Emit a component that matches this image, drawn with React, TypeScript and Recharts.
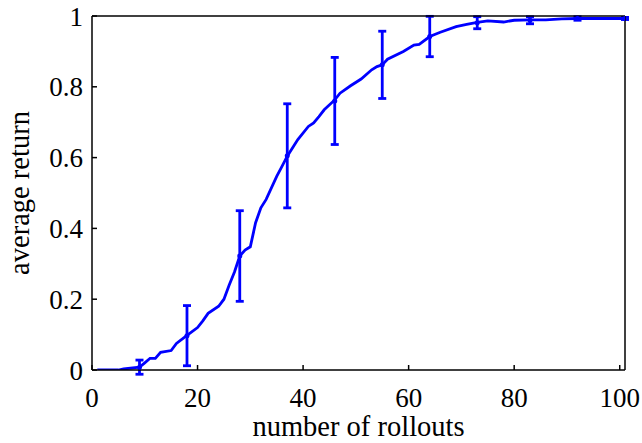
import { ComposedChart, Line, Scatter, ErrorBar, XAxis, YAxis, Label } from "recharts";

// mean return curve
const rolloutX = [1, 5, 6, 9, 10, 11, 12, 13, 15, 16, 18, 20, 21, 22, 24, 25, 26, 27, 28, 29, 30, 31, 32, 33, 35, 36, 37, 39, 41, 42, 43, 44, 46, 47, 49, 51, 53, 54, 55, 56, 59, 61, 62, 64, 66, 69, 71, 73, 75, 78, 80, 83, 86, 89, 92, 96, 101];
const avgReturn = [0, 0, 0.003, 0.008, 0.02, 0.033, 0.033, 0.05, 0.055, 0.075, 0.098, 0.12, 0.139, 0.16, 0.18, 0.2, 0.24, 0.277, 0.322, 0.339, 0.348, 0.416, 0.458, 0.482, 0.547, 0.575, 0.604, 0.651, 0.688, 0.698, 0.716, 0.735, 0.763, 0.782, 0.803, 0.822, 0.848, 0.857, 0.862, 0.878, 0.9, 0.918, 0.92, 0.942, 0.954, 0.97, 0.976, 0.982, 0.986, 0.983, 0.988, 0.989, 0.989, 0.992, 0.993, 0.993, 0.993];

// error bars (sampled rollouts)
const errX = [9, 18, 28, 37, 46, 55, 64, 73, 83, 92, 101];
const errMean = [0.008, 0.097, 0.322, 0.605, 0.76, 0.862, 0.942, 0.981, 0.988, 0.993, 0.993];
const errSize = [0.02, 0.085, 0.128, 0.147, 0.123, 0.095, 0.057, 0.017, 0.01, 0.005, 0.003];

const xTicks = [0, 20, 40, 60, 80, 100];
const yTicks = [0, 0.2, 0.4, 0.6, 0.8, 1];

const lineData = rolloutX.map((x, i) => ({ x, y: avgReturn[i] }));
const errData = errX.map((x, i) => ({ x, y: errMean[i], err: errSize[i] }));

const FONT = "Liberation Serif, DejaVu Serif, serif";
const BLUE = "#0000ff";
const tickStyle = { fill: "#000", fontSize: 27, fontFamily: FONT };
const axisStroke = { stroke: "#000", strokeWidth: 1.5 };
const labelStyle = { fill: "#000", fontSize: 28.5, fontFamily: FONT };

export default function App() {
  return (
    <div style={{ position: "absolute", left: 0, top: 0, background: "#fff" }}>
      <ComposedChart
        width={642}
        height={443}
        margin={{ top: 15, right: 16, bottom: 13, left: 12 }}
        style={{ fontFamily: FONT }}
      >
        <XAxis
          dataKey="x"
          type="number"
          domain={[0, 101]}
          ticks={xTicks}
          height={60}
          allowDataOverflow
          tick={tickStyle}
          tickSize={-5}
          tickMargin={23}
          axisLine={axisStroke}
          tickLine={axisStroke}
        >
          <Label value="number of rollouts" position="bottom" offset={-14} style={labelStyle} />
        </XAxis>
        <XAxis
          xAxisId="top"
          orientation="top"
          dataKey="x"
          type="number"
          domain={[0, 101]}
          ticks={xTicks}
          height={1}
          allowDataOverflow
          tick={false}
          tickSize={-5}
          axisLine={axisStroke}
          tickLine={axisStroke}
        />
        <YAxis
          type="number"
          domain={[0, 1]}
          ticks={yTicks}
          width={80}
          allowDataOverflow
          tick={tickStyle}
          tickSize={-5}
          tickMargin={14}
          axisLine={axisStroke}
          tickLine={axisStroke}
        >
          <Label
            value="average return"
            position="insideLeft"
            angle={-90}
            offset={7}
            textAnchor="middle"
            style={{ ...labelStyle, textAnchor: "middle" }}
          />
        </YAxis>
        <YAxis
          yAxisId="right"
          orientation="right"
          type="number"
          domain={[0, 1]}
          ticks={yTicks}
          width={1}
          allowDataOverflow
          tick={false}
          tickSize={-5}
          axisLine={axisStroke}
          tickLine={axisStroke}
        />
        <Line
          data={lineData}
          dataKey="y"
          type="linear"
          stroke={BLUE}
          strokeWidth={2.8}
          dot={false}
          isAnimationActive={false}
        />
        <Scatter
          data={errData}
          dataKey="y"
          xAxisId="top"
          yAxisId="right"
          fill={BLUE}
          isAnimationActive={false}
          shape={(p: any) => <circle cx={p.cx} cy={p.cy} r={2.5} fill={BLUE} />}
        >
          <ErrorBar dataKey="err" direction="y" width={4} stroke={BLUE} strokeWidth={2.8} isAnimationActive={false} />
        </Scatter>
      </ComposedChart>
    </div>
  );
}
